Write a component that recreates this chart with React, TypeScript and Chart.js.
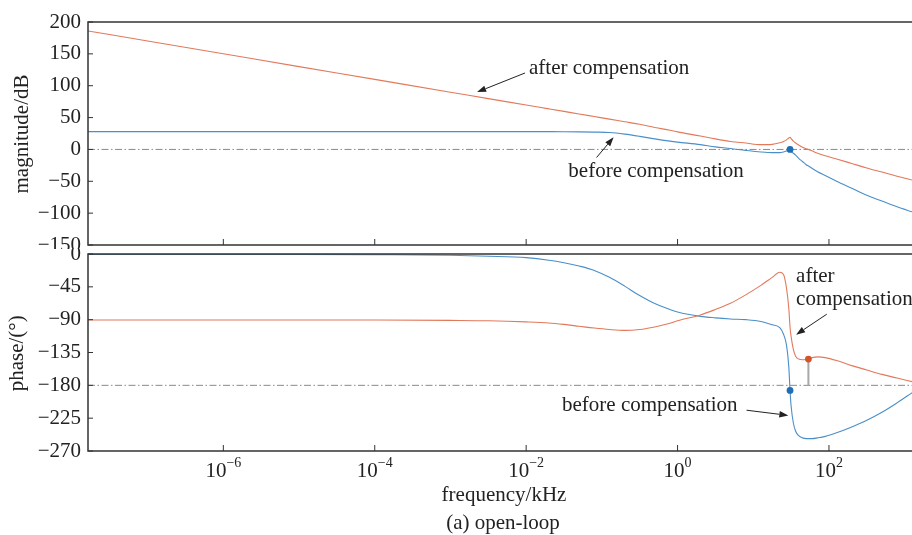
import React, { useEffect, useRef } from "react";
import { Chart, registerables } from "chart.js";

Chart.register(...registerables);

// ---------------- data (frequency in kHz) ----------------
const freqKHz = [
  1.63e-8, 1e-7, 1e-6, 1e-5, 1e-4, 1e-3, 3.16e-3, 0.01, 0.02, 0.0316, 0.05, 0.0794, 0.126, 0.2, 0.316, 0.5,
  0.794, 1, 2, 3.16, 5, 7.94, 12.6, 17.8, 22.4, 25.1, 27.5, 29.5, 30.6, 31.6, 33.9, 36.3, 39.8, 44.7, 50.1,
  53.5, 60.3, 70.8, 89.1, 126, 200, 316, 501, 794, 1259,
];

const magBefore = [
  28, 28, 28, 28, 28, 28, 28, 28, 27.9, 27.8, 27.6, 27.2, 26.5, 24, 20.5, 16.5, 13, 11.5, 7.5, 4, 1.5, -1.5,
  -4, -5, -5, -4, -2.5, -1, 0, -3, -6, -9, -14, -19, -24, -26, -30, -35, -41, -50, -61, -72, -81, -90, -98,
];

const magAfter = [
  186, 170.2, 150.1, 130, 109.9, 89.8, 79.8, 69.7, 63.7, 59.7, 55.6, 51.6, 47.6, 43.5, 39.5, 34.5, 30, 27.5,
  21, 16.5, 12.5, 10, 7.5, 8, 10.5, 12.5, 15, 18, 19, 17, 13, 10, 7, 3.5, 1, 0, -2.5, -6, -10, -15, -22, -29,
  -35.5, -42, -48,
];

const phaseBefore = [
  -0.5, -0.5, -0.5, -0.6, -1, -1.8, -3, -5, -8.5, -12, -16.5, -22.5, -32, -44, -57, -68, -76, -79.5, -85.5,
  -87.5, -89, -90, -92.5, -97, -101, -110, -125, -155, -187, -208, -232, -243, -249, -252, -253, -253, -253,
  -252, -250, -245, -237, -228, -217, -204, -190,
];

const phaseAfter = [
  -90.5, -90.5, -90.5, -90.5, -90.5, -91, -91.5, -93, -94.5, -96.5, -99, -101.5, -103.5, -104.7, -103.5, -100,
  -95, -91.5, -83.5, -76, -67.5, -56, -43, -32, -25, -28, -47, -75, -100, -113, -131, -140, -144, -145,
  -144.5, -144, -142, -141, -142, -146, -153, -159, -165, -170, -175,
];

const magTicks = [200, 150, 100, 50, 0, -50, -100, -150];
const phaseTicks = [0, -45, -90, -135, -180, -225, -270];
const freqTickExps = [-6, -4, -2, 0, 2];

const fMin = 1.63e-8;
const fMax = 1250;
const refMag = 0;
const refPhase = -180;

// crossover markers
const crossBeforeFreq = 30.6;
const crossBeforeMag = 0;
const crossBeforePhase = -187;
const crossAfterFreq = 53.5;
const crossAfterPhase = -144;

// annotations (data coordinates: [freq, value])
const magNotes = [
  { lines: ["after compensation"], at: [0.0109, 119], tail: [0.00967, 120], tip: [0.00225, 90] },
  { lines: ["before compensation"], at: [0.0361, -44], tail: [0.0851, -12.7], tip: [0.1428, 19] },
];
const phaseNotes = [
  { lines: ["after", "compensation"], at: [36.8, -38.7], tail: [93.5, -82.5], tip: [36.8, -110.6] },
  { lines: ["before compensation"], at: [0.0298, -214.8], tail: [8.155, -214.1], tip: [29.08, -221.2] },
];

// ---------------- styles ----------------
const FONT = "'Liberation Serif', 'Times New Roman', Times, serif";
const TEXT = "#222222";
const BLUE = "#4a8fc9";
const ORANGE = "#e2795b";
const BLUE_DOT = "#1f6db3";
const ORANGE_DOT = "#d4532a";
const FRAME = "#333333";

function fmt(v: number) {
  return v < 0 ? "\u2212" + Math.abs(v) : String(v);
}

function series(values: number[]) {
  return freqKHz.map((f, i) => ({ x: f, y: values[i] }));
}

function drawArrow(ctx: CanvasRenderingContext2D, x1: number, y1: number, x2: number, y2: number) {
  const ang = Math.atan2(y2 - y1, x2 - x1);
  const len = 9;
  const hw = 3.2;
  const bx = x2 - len * Math.cos(ang);
  const by = y2 - len * Math.sin(ang);
  ctx.beginPath();
  ctx.moveTo(x1, y1);
  ctx.lineTo(bx, by);
  ctx.stroke();
  ctx.beginPath();
  ctx.moveTo(x2, y2);
  ctx.lineTo(bx + hw * Math.sin(ang), by - hw * Math.cos(ang));
  ctx.lineTo(bx - hw * Math.sin(ang), by + hw * Math.cos(ang));
  ctx.closePath();
  ctx.fill();
}

function decoPlugin(yTicks: number[], notes: any[], extra: (chart: any) => void) {
  return {
    id: "deco",
    afterDraw(chart: any) {
      const { ctx, chartArea } = chart;
      const { left, top, right, bottom } = chartArea;
      const sx = chart.scales.x;
      const sy = chart.scales.y;
      ctx.save();
      // frame
      ctx.strokeStyle = FRAME;
      ctx.lineWidth = 1.5;
      ctx.beginPath();
      ctx.moveTo(right + 2, top);
      ctx.lineTo(left, top);
      ctx.lineTo(left, bottom);
      ctx.lineTo(right + 2, bottom);
      ctx.stroke();
      // inward ticks
      ctx.lineWidth = 1;
      ctx.beginPath();
      for (const v of yTicks) {
        const py = sy.getPixelForValue(v);
        ctx.moveTo(left, py);
        ctx.lineTo(left + 5, py);
      }
      for (const e of freqTickExps) {
        const px = sx.getPixelForValue(Math.pow(10, e));
        ctx.moveTo(px, bottom);
        ctx.lineTo(px, bottom - 6);
      }
      ctx.stroke();
      // annotations
      ctx.fillStyle = TEXT;
      ctx.strokeStyle = TEXT;
      ctx.lineWidth = 1;
      ctx.font = `21px ${FONT}`;
      ctx.textAlign = "left";
      ctx.textBaseline = "alphabetic";
      for (const n of notes) {
        const tx = sx.getPixelForValue(n.at[0]);
        const ty = sy.getPixelForValue(n.at[1]);
        n.lines.forEach((ln: string, i: number) => ctx.fillText(ln, tx, ty + i * 22.5));
        drawArrow(
          ctx,
          sx.getPixelForValue(n.tail[0]),
          sy.getPixelForValue(n.tail[1]),
          sx.getPixelForValue(n.tip[0]),
          sy.getPixelForValue(n.tip[1])
        );
      }
      extra(chart);
      ctx.restore();
    },
  };
}

function yScale(min: number, max: number, ticks: number[]) {
  return {
    type: "linear" as const,
    position: "left" as const,
    min,
    max,
    afterFit: (s: any) => {
      s.width = 88;
      s.paddingTop = 0;
      s.paddingBottom = 0;
    },
    afterBuildTicks: (s: any) => {
      s.ticks = ticks.map((v) => ({ value: v }));
    },
    grid: { display: false, drawTicks: false },
    border: { display: false },
    ticks: {
      autoSkip: false,
      padding: 7,
      color: TEXT,
      font: { family: FONT, size: 21 },
      callback: (v: any) => fmt(Number(v)),
    },
  };
}

function rotatedTitle(ctx: CanvasRenderingContext2D, text: string, x: number, y: number) {
  ctx.save();
  ctx.translate(x, y);
  ctx.rotate(-Math.PI / 2);
  ctx.textAlign = "center";
  ctx.textBaseline = "alphabetic";
  ctx.font = `21px ${FONT}`;
  ctx.fillStyle = TEXT;
  ctx.fillText(text, 0, 0);
  ctx.restore();
}

export default function App() {
  const topRef = useRef<HTMLCanvasElement>(null);
  const botRef = useRef<HTMLCanvasElement>(null);

  useEffect(() => {
    document.body.style.margin = "0";

    const common = {
      responsive: false,
      animation: false as const,
      devicePixelRatio: 1,
      plugins: { legend: { display: false }, tooltip: { enabled: false } },
      elements: { point: { radius: 0 } },
    };

    const topChart = new Chart(topRef.current!, {
      type: "line",
      data: {
        datasets: [
          {
            data: [{ x: crossBeforeFreq, y: crossBeforeMag }],
            showLine: false,
            pointRadius: 3.4,
            pointBackgroundColor: BLUE_DOT,
            pointBorderWidth: 0,
          },
          {
            data: series(magAfter),
            borderColor: ORANGE,
            borderWidth: 1.1,
            pointRadius: 0,
            cubicInterpolationMode: "monotone",
          },
          {
            data: series(magBefore),
            borderColor: BLUE,
            borderWidth: 1.1,
            pointRadius: 0,
            cubicInterpolationMode: "monotone",
          },
          {
            data: [
              { x: fMin, y: refMag },
              { x: fMax, y: refMag },
            ],
            borderColor: "#8a8a8a",
            borderWidth: 1,
            borderDash: [7, 2.5, 1.5, 2.5],
            pointRadius: 0,
          },
        ],
      },
      options: {
        ...common,
        layout: { autoPadding: false, padding: { left: 0, right: 0, top: 22, bottom: 4 } },
        scales: {
          x: { type: "logarithmic", min: fMin, max: fMax, display: false },
          y: yScale(-150, 200, magTicks),
        },
      } as any,
      plugins: [
        decoPlugin(magTicks, magNotes, (chart: any) => {
          const { ctx, chartArea } = chart;
          rotatedTitle(ctx, "magnitude/dB", 27.8, (chartArea.top + chartArea.bottom) / 2 + 0.5);
        }),
      ],
    });

    const botChart = new Chart(botRef.current!, {
      type: "line",
      data: {
        datasets: [
          {
            data: [
              { x: crossBeforeFreq, y: crossBeforePhase },
              { x: crossAfterFreq, y: crossAfterPhase },
            ],
            showLine: false,
            pointRadius: 3.4,
            pointBackgroundColor: [BLUE_DOT, ORANGE_DOT],
            pointBorderWidth: 0,
          },
          {
            data: [
              { x: crossAfterFreq, y: crossAfterPhase },
              { x: crossAfterFreq, y: refPhase },
            ],
            borderColor: "#a8a8a8",
            borderWidth: 2,
            pointRadius: 0,
          },
          {
            data: series(phaseAfter),
            borderColor: ORANGE,
            borderWidth: 1.1,
            pointRadius: 0,
            cubicInterpolationMode: "monotone",
          },
          {
            data: series(phaseBefore),
            borderColor: BLUE,
            borderWidth: 1.1,
            pointRadius: 0,
            cubicInterpolationMode: "monotone",
          },
          {
            data: [
              { x: fMin, y: refPhase },
              { x: fMax, y: refPhase },
            ],
            borderColor: "#8a8a8a",
            borderWidth: 1,
            borderDash: [7, 2.5, 1.5, 2.5],
            pointRadius: 0,
          },
        ],
      },
      options: {
        ...common,
        layout: { autoPadding: false, padding: { left: 0, right: 0, top: 5, bottom: 84 } },
        scales: {
          x: { type: "logarithmic", min: fMin, max: fMax, display: false },
          y: yScale(-270, 0, phaseTicks),
        },
      } as any,
      plugins: [
        decoPlugin(phaseTicks, phaseNotes, (chart: any) => {
          const { ctx, chartArea } = chart;
          const sx = chart.scales.x;
          const b = chartArea.bottom;
          ctx.fillStyle = TEXT;
          ctx.textBaseline = "alphabetic";
          // x tick labels with superscript exponents
          for (const e of freqTickExps) {
            const px = sx.getPixelForValue(Math.pow(10, e));
            const base = "10";
            const sup = e < 0 ? "\u2212" + Math.abs(e) : String(e);
            ctx.font = `21px ${FONT}`;
            const wb = ctx.measureText(base).width;
            ctx.font = `14px ${FONT}`;
            const ws = ctx.measureText(sup).width;
            const x0 = px - (wb + ws) / 2;
            ctx.textAlign = "left";
            ctx.font = `21px ${FONT}`;
            ctx.fillText(base, x0, b + 25.5);
            ctx.font = `14px ${FONT}`;
            ctx.fillText(sup, x0 + wb, b + 16);
          }
          ctx.font = `21px ${FONT}`;
          ctx.textAlign = "center";
          ctx.fillText("frequency/kHz", 504, b + 50);
          ctx.fillText("(a) open-loop", 503, b + 78);
          rotatedTitle(ctx, "phase/(\u00B0)", 23.3, (chartArea.top + chartArea.bottom) / 2 + 0.8);
        }),
      ],
    });

    return () => {
      topChart.destroy();
      botChart.destroy();
    };
  }, []);

  return (
    <div
      style={{
        position: "fixed",
        left: 0,
        top: 0,
        width: 912,
        height: 535,
        overflow: "hidden",
        background: "#ffffff",
      }}
    >
      <canvas ref={topRef} width={912} height={249} style={{ position: "absolute", left: 0, top: 0 }} />
      <canvas ref={botRef} width={912} height={286} style={{ position: "absolute", left: 0, top: 249 }} />
    </div>
  );
}
